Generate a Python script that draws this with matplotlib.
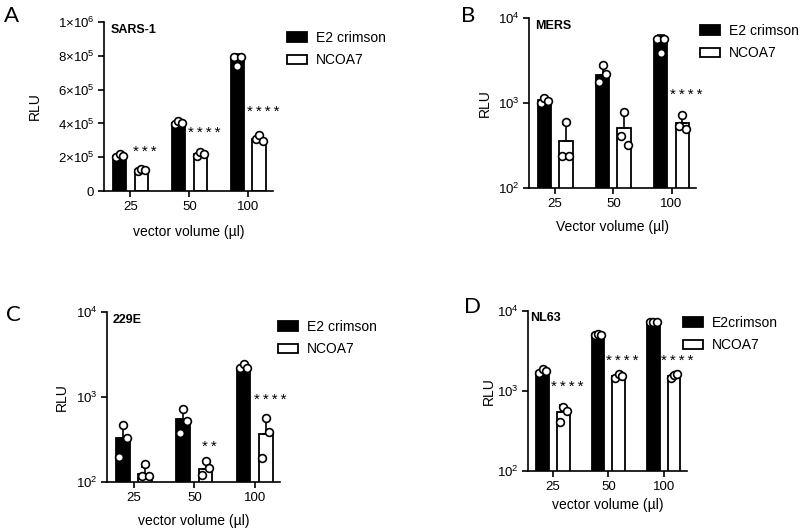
import matplotlib
matplotlib.use('Agg')
import matplotlib.pyplot as plt
import numpy as np
from matplotlib.ticker import FixedLocator, FixedFormatter, NullLocator
from matplotlib.patches import Patch

plt.rcParams['font.family'] = ['Liberation Sans', 'DejaVu Sans']
plt.rcParams['mathtext.fontset'] = 'custom'
plt.rcParams['mathtext.rm'] = 'Liberation Sans'
plt.rcParams['mathtext.it'] = 'Liberation Sans:italic'
plt.rcParams['mathtext.bf'] = 'Liberation Sans:bold'

volumes = ['25', '50', '100']
series_names = ['E2 crimson', 'NCOA7']

# SARS-1 (linear axis)
sars_e2_mean = [2.1e5, 4.0e5, 7.8e5]
sars_e2_pts = [[2.0e5, 2.2e5, 2.1e5], [3.95e5, 4.15e5, 4.0e5], [7.9e5, 7.4e5, 7.95e5]]
sars_nc_mean = [1.25e5, 2.2e5, 3.1e5]
sars_nc_pts = [[1.2e5, 1.3e5, 1.25e5], [2.1e5, 2.3e5, 2.2e5], [3.05e5, 3.3e5, 2.95e5]]
sars_stars = ['***', '****', '****']
sars_star_y = [2.3e5, 3.43e5, 4.67e5]

# MERS (log axis)
mers_e2_mean = [1090, 2150, 5300]
mers_e2_pts = [[1000, 1150, 1050], [1750, 2800, 2200], [5650, 3900, 5650]]
mers_nc_mean = [355, 510, 585]
mers_nc_pts = [[240, 600, 240], [410, 790, 320], [540, 730, 490]]
mers_stars = ['', '', '****']
mers_star_y = [None, None, 1240]

# 229E (log axis)
e229_e2_mean = [325, 555, 2150]
e229_e2_pts = [[195, 470, 330], [375, 720, 515], [2210, 2420, 2210]]
e229_nc_mean = [125, 143, 370]
e229_nc_pts = [[117, 162, 117], [120, 175, 148], [190, 560, 390]]
e229_stars = ['', '**', '****']
e229_star_y = [None, 258, 920]

# NL63 (log axis)
nl63_e2_mean = [1710, 5100, 7200]
nl63_e2_pts = [[1660, 1880, 1780], [5000, 5100, 5050], [7200, 7300, 7250]]
nl63_nc_mean = [550, 1540, 1540]
nl63_nc_pts = [[415, 640, 570], [1440, 1620, 1560], [1460, 1600, 1620]]
nl63_stars = ['****', '****', '****']
nl63_star_y = [1120, 2370, 2370]

W, H = 800, 531
fig = plt.figure(figsize=(8, 5.31), dpi=100)


def px_rect(left, right, top, bottom):
    return [left / W, 1 - bottom / H, (right - left) / W, (bottom - top) / H]


def draw_panel(rect, title, e2_mean, e2_pts, nc_mean, nc_pts, stars, star_y,
               log, xlabel, legend_xy, leg_labels, letter, letter_xy, ylab_x, xlab_y, title_x):
    ax = fig.add_axes(rect)
    x = np.arange(len(volumes))
    w = 0.23
    off = 0.185
    jit = np.array([-0.06, 0.0, 0.06])
    for i, (means, pts, fc) in enumerate([(e2_mean, e2_pts, 'black'), (nc_mean, nc_pts, 'white')]):
        xs = x + (-off if i == 0 else off)
        ax.bar(xs, means, w, color=fc, edgecolor='black', linewidth=1.3, zorder=2)
        sd = [np.std(p, ddof=1) for p in pts]
        ax.errorbar(xs, means, yerr=[np.zeros(3), sd], fmt='none', ecolor='black',
                    elinewidth=1.2, capsize=3, capthick=1.2, zorder=3)
        for j in range(3):
            ax.plot(xs[j] + jit, pts[j], 'o', ms=5.6, mfc='white', mec='black',
                    mew=1.2, zorder=4, clip_on=False)
    for j in range(3):
        if stars[j]:
            ax.text(x[j] + 0.25, star_y[j], '\u2009'.join(stars[j]), ha='center', va='center',
                    fontsize=11, zorder=5)

    if log:
        ax.set_yscale('log')
        ax.set_ylim(1e2, 1e4)
        ax.yaxis.set_major_locator(FixedLocator([1e2, 1e3, 1e4]))
        ax.yaxis.set_major_formatter(FixedFormatter([r'$10^{2}$', r'$10^{3}$', r'$10^{4}$']))
        ax.yaxis.set_minor_locator(NullLocator())
    else:
        ax.set_ylim(0, 1e6)
        ticks = [0, 2e5, 4e5, 6e5, 8e5, 1e6]
        ax.yaxis.set_major_locator(FixedLocator(ticks))
        ax.yaxis.set_major_formatter(FixedFormatter(
            ['0', r'$2{\times}10^{5}$', r'$4{\times}10^{5}$', r'$6{\times}10^{5}$',
             r'$8{\times}10^{5}$', r'$1{\times}10^{6}$']))

    ax.set_xlim(-0.45, 2.42)
    ax.set_xticks(x)
    ax.set_xticklabels(volumes)
    for s in ['top', 'right']:
        ax.spines[s].set_visible(False)
    for s in ['left', 'bottom']:
        ax.spines[s].set_linewidth(1.2)
    ax.tick_params(direction='out', length=4, width=1.2, labelsize=9.5, pad=3)

    ax.set_ylabel('RLU', fontsize=10)
    ax.yaxis.set_label_coords(ylab_x, 0.5)
    ax.set_xlabel(xlabel, fontsize=10)
    ax.xaxis.set_label_coords(0.5, xlab_y)

    ax.text(title_x, 0.955, title, transform=ax.transAxes, fontsize=9, fontweight='bold',
            ha='left', va='center')

    handles = [Patch(facecolor='black', edgecolor='black', linewidth=1.3),
               Patch(facecolor='white', edgecolor='black', linewidth=1.3)]
    ax.legend(handles, leg_labels, loc='upper left',
              bbox_to_anchor=(legend_xy[0] / W, 1 - legend_xy[1] / H),
              bbox_transform=fig.transFigure, frameon=False, fontsize=10,
              handlelength=1.45, handleheight=0.65, handletextpad=0.65,
              labelspacing=0.6, borderpad=0, borderaxespad=0)

    fig.text(letter_xy[0] / W, 1 - letter_xy[1] / H, letter, fontsize=16,
             family=['Lato', 'DejaVu Sans'], ha='center', va='center')
    return ax


draw_panel(px_rect(104, 273, 22, 191), 'SARS-1', sars_e2_mean, sars_e2_pts,
           sars_nc_mean, sars_nc_pts, sars_stars, sars_star_y, False,
           'vector volume (µl)', (287, 31), series_names, 'A', (12, 16), -0.37, -0.20, 0.04)
draw_panel(px_rect(529, 696, 18, 188), 'MERS', mers_e2_mean, mers_e2_pts,
           mers_nc_mean, mers_nc_pts, mers_stars, mers_star_y, True,
           'Vector volume (µl)', (700, 24), series_names, 'B', (468, 16), -0.22, -0.19, 0.036)
draw_panel(px_rect(107, 280, 312, 482), '229E', e229_e2_mean, e229_e2_pts,
           e229_nc_mean, e229_nc_pts, e229_stars, e229_star_y, True,
           'vector volume (µl)', (278, 320), series_names, 'C', (13, 315), -0.22, -0.19, 0.03)
draw_panel(px_rect(528, 687, 311, 471), 'NL63', nl63_e2_mean, nl63_e2_pts,
           nl63_nc_mean, nl63_nc_pts, nl63_stars, nl63_star_y, True,
           'vector volume (µl)', (683, 316), ['E2crimson', 'NCOA7'], 'D', (472, 307), -0.20, -0.17, 0.015)

fig.savefig('out.png', dpi=100)
